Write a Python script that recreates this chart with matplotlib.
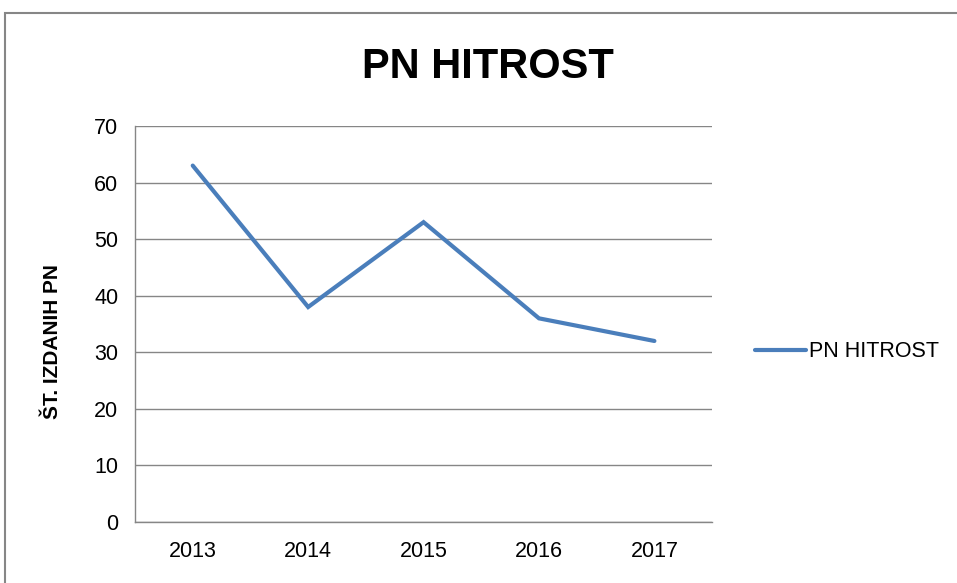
import matplotlib.pyplot as plt
import matplotlib.patches as mpatches

years = ['2013', '2014', '2015', '2016', '2017']
values = [63, 38, 53, 36, 32]
yticks = [0, 10, 20, 30, 40, 50, 60, 70]

plt.rcParams['font.family'] = ['Liberation Sans Narrow', 'Liberation Sans', 'DejaVu Sans']

fig = plt.figure(figsize=(9.57, 5.83), dpi=100)
ax = fig.add_axes([0.1411, 0.1046, 0.603, 0.6793])

x = list(range(len(years)))
ax.plot(x, values, color='#4A7EBB', linewidth=3, solid_capstyle='round',
        solid_joinstyle='miter', label='PN HITROST')

ax.set_xlim(-0.5, len(years) - 0.5)
ax.set_ylim(0, 70)
ax.set_yticks(yticks)
ax.set_xticks(x)
ax.set_xticklabels(years)
ax.tick_params(axis='both', length=0, labelsize=15.5, colors='#000000')
ax.tick_params(axis='y', pad=12)
ax.tick_params(axis='x', pad=14)
ax.grid(axis='y', color='#868686', linewidth=1)
ax.axhline(0, color='#868686', linewidth=1, clip_on=False, zorder=0.5)
ax.set_axisbelow(True)
for s in ['top', 'right', 'bottom']:
    ax.spines[s].set_visible(False)
ax.spines['left'].set_color('#868686')
ax.spines['left'].set_linewidth(1)

ax.set_ylabel('ŠT. IZDANIH PN', fontsize=15, fontweight='bold')
ax.yaxis.set_label_coords(-0.126, 0.455)

fig.text(0.51, 0.885, 'PN HITROST', ha='center', va='center',
         fontsize=30, fontweight='bold')

ax.legend(loc='center left', bbox_to_anchor=(1.04, 0.43), frameon=False,
          fontsize=15.5, handlelength=2.4, handletextpad=0.15)

# chart border
fig.patches.append(mpatches.Rectangle((5 / 957, -0.1), 1.2, 1 - 13 / 583 + 0.1,
                                      transform=fig.transFigure, fill=False,
                                      edgecolor='#868686', linewidth=1.5))

fig.savefig('out.png', dpi=100)
